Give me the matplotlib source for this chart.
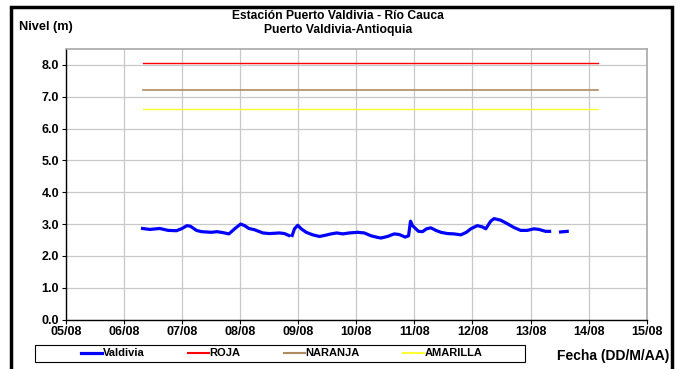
import matplotlib
matplotlib.use("Agg")
import matplotlib.pyplot as plt
import matplotlib.patches as mpatches
import numpy as np
import datetime as dt

plt.rcParams['font.family'] = ['Liberation Sans', 'DejaVu Sans']

# ---- data ----
base_date = dt.datetime(2023, 8, 5)
# time in days after 05/08 00:00 (NaN = gap)
valdivia_days = [1.318, 1.443, 1.615, 1.758, 1.902, 1.988, 2.084, 2.143, 2.246, 2.332,
                 2.503, 2.600, 2.703, 2.806, 2.904, 3.007, 3.076, 3.149, 3.247, 3.390,
                 3.505, 3.677, 3.763, 3.837, 3.866,
                 3.895, 3.935, 3.991, 4.050, 4.136, 4.249, 4.364, 4.450, 4.565, 4.662,
                 4.765, 4.880, 5.022, 5.137, 5.253, 5.366, 5.424, 5.538, 5.653, 5.739,
                 5.842, 5.899, 5.933, 5.967, 6.070, 6.139, 6.208, 6.284, 6.369, 6.455,
                 6.569, 6.684, 6.799, 6.895, 6.971, 7.084, 7.170, 7.229, 7.314, 7.371,
                 7.486, 7.600, 7.715, 7.830, 7.943, 8.058, 8.144, 8.259, 8.328, 8.420,
                 8.517, 8.631]
valdivia_level = [2.86, 2.83, 2.86, 2.80, 2.79, 2.85, 2.95, 2.93, 2.80, 2.76,
                  2.74, 2.76, 2.73, 2.69, 2.85, 3.00, 2.95, 2.86, 2.82, 2.72,
                  2.70, 2.72, 2.70, 2.64, np.nan,
                  2.64, 2.85, 2.96, 2.85, 2.74, 2.66, 2.61, 2.64, 2.69, 2.72,
                  2.69, 2.72, 2.74, 2.72, 2.63, 2.58, 2.56, 2.61, 2.69, 2.67,
                  2.59, 2.63, 3.09, 2.95, 2.77, 2.76, 2.85, 2.88, 2.80, 2.74,
                  2.70, 2.69, 2.66, 2.74, 2.85, 2.95, 2.91, 2.85, 3.09, 3.17,
                  3.12, 3.01, 2.89, 2.80, 2.80, 2.85, 2.83, 2.77, 2.77, np.nan,
                  2.75, 2.77]
threshold_days = [1.328, 9.158]
roja = 8.05
naranja = 7.22
amarilla = 6.63

xtick_labels = ["05/08", "06/08", "07/08", "08/08", "09/08", "10/08",
                "11/08", "12/08", "13/08", "14/08", "15/08"]
yticks = [0.0, 1.0, 2.0, 3.0, 4.0, 5.0, 6.0, 7.0, 8.0]

to_dt = lambda d: base_date + dt.timedelta(days=d)
vt = [to_dt(d) for d in valdivia_days]
tt = [to_dt(d) for d in threshold_days]

W, H = 677, 369
fig = plt.figure(figsize=(W / 100, H / 100), dpi=100)
ax = fig.add_axes([66 / W, 1 - 319.5 / H, (646.7 - 66) / W, (319.5 - 49) / H])

l1, = ax.plot(vt, valdivia_level, color='#0000ff', lw=2.3, label='Valdivia')
l2, = ax.plot(tt, [roja, roja], color='#ff0000', lw=1.0, label='ROJA')
l3, = ax.plot(tt, [naranja, naranja], color='#b08a60', lw=1.2, label='NARANJA')
l4, = ax.plot(tt, [amarilla, amarilla], color='#ffff33', lw=1.0, label='AMARILLA')

ax.set_xlim(base_date, to_dt(10))
ax.set_ylim(0, 8.5)
ax.set_xticks([to_dt(i) for i in range(len(xtick_labels))])
ax.set_xticklabels(xtick_labels)
ax.set_yticks(yticks)
ax.set_yticklabels([f"{v:.1f}" for v in yticks])
ax.grid(True, color='#c8c8c8', lw=0.9)
ax.set_axisbelow(True)
for s in ['top', 'right']:
    ax.spines[s].set_color('#a8a8a8')
    ax.spines[s].set_linewidth(1.2)
for s in ['left', 'bottom']:
    ax.spines[s].set_color('black')
    ax.spines[s].set_linewidth(1.0)
ax.tick_params(axis='both', labelsize=9, length=3, width=0.8, pad=2, colors='black')
for lab in ax.get_xticklabels() + ax.get_yticklabels():
    lab.set_fontweight('bold')

fig.text(338 / W, 1 - 16 / H, "Estación Puerto Valdivia - Río Cauca", ha='center', va='center',
         fontsize=8.7, fontweight='bold')
fig.text(338 / W, 1 - 30 / H, "Puerto Valdivia-Antioquia", ha='center', va='center',
         fontsize=8.7, fontweight='bold')
fig.text(19 / W, 1 - 27 / H, "Nivel (m)", ha='left', va='center', fontsize=9.2, fontweight='bold')
fig.text(669 / W, 1 - 356 / H, "Fecha (DD/M/AA)", ha='right', va='center', fontsize=10,
         fontweight='bold')

# legend box
legbox = mpatches.Rectangle((35 / W, 1 - 362 / H), (525 - 35) / W, 17 / H,
                            transform=fig.transFigure, fill=False, edgecolor='black',
                            lw=0.8)
fig.patches.append(legbox)
leg = fig.legend(handles=[l1, l2, l3, l4], ncol=4, loc='center',
                 bbox_to_anchor=(282 / W, 1 - 353.5 / H),
                 fontsize=8, frameon=False,
                 handlelength=1.9, handletextpad=0.05, borderpad=0.0, borderaxespad=0,
                 columnspacing=3.9)
for t in leg.get_texts():
    t.set_fontweight('bold')
for h in leg.get_lines():
    h.set_linewidth(1.5)
leg.get_lines()[0].set_linewidth(2.3)

border = mpatches.Rectangle((11 / W, -0.05), (672 - 11) / W, 1.05 - 7 / H,
                            transform=fig.transFigure, fill=False, edgecolor='black',
                            lw=2.5, clip_on=False)
fig.patches.append(border)

fig.savefig("out.png", dpi=100)
